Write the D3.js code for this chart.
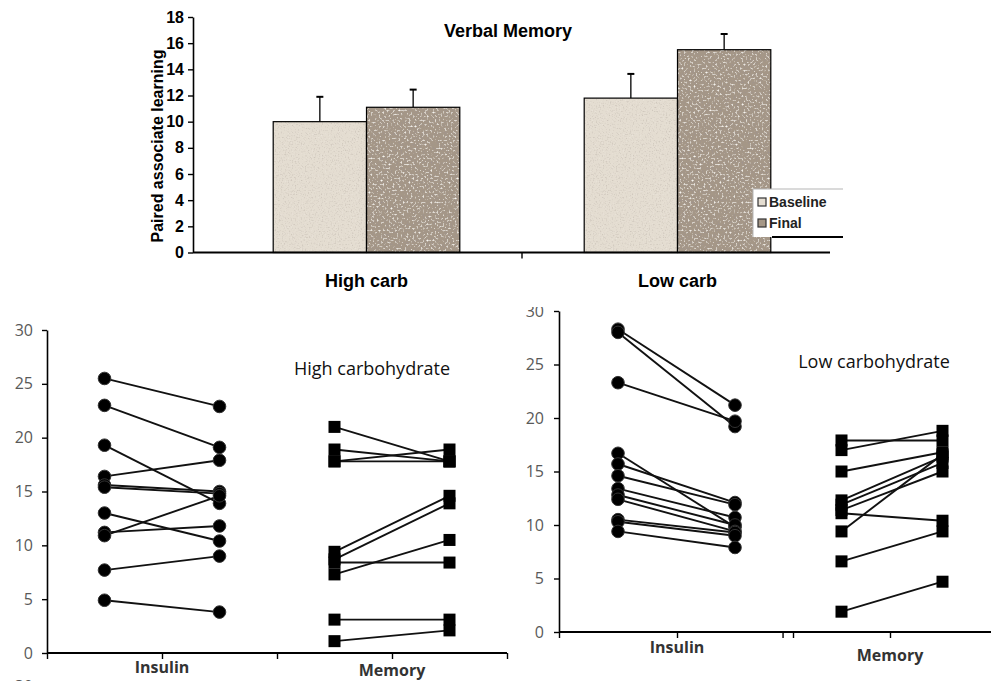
<!DOCTYPE html>
<html>
<head>
  <meta charset="utf-8">
  <title>Verbal Memory</title>
  <script src="https://cdn.jsdelivr.net/npm/d3@7"></script>
  <style>
    body { margin: 0; background: #fff; }
    .bt { font-family: "Liberation Sans", Arial, sans-serif; font-weight: bold; fill: #000; }
    .pt { font-family: "Open Sans", "Noto Sans", sans-serif; fill: #595959; }
  </style>
</head>
<body>
  <svg width="991" height="681" id="mainsvg"></svg>
  <script>
    // ---- top: verbal memory bars
    const groups = ['High carb', 'Low carb'];
    const seriesKeys = ['Baseline', 'Final'];
    const baselineMean = [10.0, 11.8];
    const finalMean = [11.1, 15.5];
    const baselineErr = [1.9, 1.85];
    const finalErr = [1.35, 1.2];
    const barTicks = [0, 2, 4, 6, 8, 10, 12, 14, 16, 18];

    // ---- bottom: paired subject values (baseline -> final)
    const hiInsulinBase = [25.5, 23.0, 19.3, 16.4, 15.6, 15.4, 13.0, 11.2, 10.9, 7.7, 4.9];
    const hiInsulinFinal = [22.9, 19.1, 13.9, 17.9, 15.0, 14.8, 10.4, 11.8, 14.6, 9.0, 3.8];
    const hiMemoryBase = [21.0, 18.9, 17.8, 17.8, 9.4, 8.7, 8.4, 7.3, 3.1, 1.1];
    const hiMemoryFinal = [17.8, 17.8, 18.9, 17.8, 14.6, 13.9, 8.4, 10.5, 3.1, 2.1];
    const loInsulinBase = [28.3, 28.0, 23.3, 16.7, 15.7, 14.6, 13.4, 12.8, 12.4, 10.5, 10.3, 9.4];
    const loInsulinFinal = [21.2, 19.2, 19.7, 9.8, 12.1, 11.9, 10.7, 10.0, 9.4, 9.3, 9.0, 7.9];
    const loMemoryBase = [17.9, 17.0, 15.0, 12.3, 11.9, 11.4, 11.1, 9.4, 6.6, 1.9];
    const loMemoryFinal = [17.9, 18.8, 16.8, 16.4, 15.8, 15.0, 10.4, 16.6, 9.4, 4.7];
    const panelTicks = [0, 5, 10, 15, 20, 25, 30];
    const measures = ['Insulin', 'Memory'];

    const svg = d3.select('#mainsvg');
    const defs = svg.append('defs');

    // speckled fill like the old excel texture
    function speckle(id, dark, light, seed, freq) {
      const f = defs.append('filter').attr('id', id)
        .attr('x', 0).attr('y', 0).attr('width', 1).attr('height', 1);
      f.append('feTurbulence').attr('type', 'fractalNoise')
        .attr('baseFrequency', freq).attr('numOctaves', 2).attr('seed', seed).attr('result', 'n');
      f.append('feColorMatrix').attr('in', 'n').attr('type', 'matrix')
        .attr('values', `0 0 0 0 0.35 0 0 0 0 0.3 0 0 0 0 0.27 ${dark[0]} 0 0 0 ${dark[1]}`)
        .attr('result', 'dk');
      f.append('feComposite').attr('in', 'dk').attr('in2', 'SourceAlpha').attr('operator', 'in').attr('result', 'dk2');
      f.append('feColorMatrix').attr('in', 'n').attr('type', 'matrix')
        .attr('values', `0 0 0 0 0.93 0 0 0 0 0.91 0 0 0 0 0.87 ${light[0]} 0 0 0 ${light[1]}`)
        .attr('result', 'lt');
      f.append('feComposite').attr('in', 'lt').attr('in2', 'SourceAlpha').attr('operator', 'in').attr('result', 'lt2');
      const m = f.append('feMerge');
      m.append('feMergeNode').attr('in', 'SourceGraphic');
      m.append('feMergeNode').attr('in', 'dk2');
      m.append('feMergeNode').attr('in', 'lt2');
    }
    speckle('spBase', [1.2, -0.65], [-1.2, 0.45], 3, 0.7);
    speckle('spFinal', [3.4, -1.75], [-3.4, 1.55], 7, 0.5);
    const fillColor = { Baseline: '#e4ddd1', Final: '#a59787' };
    const fillFilter = { Baseline: 'url(#spBase)', Final: 'url(#spFinal)' };

    // ================= top chart =================
    const yTop = d3.scaleLinear().domain([0, 18]).range([252.5, 17]);
    const xTop = d3.scaleBand().domain(groups).range([211, 833]);
    const xSub = d3.scaleBand().domain(seriesKeys)
      .range([xTop.bandwidth() * 0.2, xTop.bandwidth() * 0.8]);

    const barRows = groups.map((g, i) => ({
      group: g,
      values: [
        { key: 'Baseline', v: baselineMean[i], e: baselineErr[i] },
        { key: 'Final', v: finalMean[i], e: finalErr[i] }
      ]
    }));

    const gTop = svg.append('g');
    const grp = gTop.selectAll('.grp').data(barRows).join('g')
      .attr('class', 'grp')
      .attr('transform', d => `translate(${xTop(d.group)},0)`);

    // error bars first (only the upper half shows)
    grp.selectAll('.err').data(d => d.values).join('g').attr('class', 'err')
      .each(function (d) {
        const cx = xSub(d.key) + xSub.bandwidth() / 2;
        const s = d3.select(this);
        s.append('line').attr('x1', cx).attr('x2', cx)
          .attr('y1', yTop(d.v)).attr('y2', yTop(d.v + d.e))
          .attr('stroke', '#000').attr('stroke-width', 1.3);
        s.append('line').attr('x1', cx - 3.5).attr('x2', cx + 3.5)
          .attr('y1', yTop(d.v + d.e)).attr('y2', yTop(d.v + d.e))
          .attr('stroke', '#000').attr('stroke-width', 2);
      });

    grp.selectAll('.bar').data(d => d.values).join('rect').attr('class', 'bar')
      .attr('x', d => xSub(d.key))
      .attr('y', d => yTop(d.v))
      .attr('width', xSub.bandwidth())
      .attr('height', d => yTop(0) - yTop(d.v))
      .attr('fill', d => fillColor[d.key])
      .attr('filter', d => fillFilter[d.key]);
    grp.selectAll('.edge').data(d => d.values).join('rect').attr('class', 'edge')
      .attr('x', d => xSub(d.key))
      .attr('y', d => yTop(d.v))
      .attr('width', xSub.bandwidth())
      .attr('height', d => yTop(0) - yTop(d.v))
      .attr('fill', 'none').attr('stroke', '#000').attr('stroke-width', 1.2);

    // y axis
    const yAxTop = gTop.append('g').attr('transform', 'translate(193,0)')
      .call(d3.axisLeft(yTop).tickValues(barTicks).tickSize(5).tickSizeOuter(0).tickPadding(4));
    yAxTop.select('.domain').attr('stroke', '#000').attr('stroke-width', 1.6);
    yAxTop.selectAll('.tick line').attr('stroke', '#000').attr('stroke-width', 1.4);
    yAxTop.selectAll('.tick text').attr('class', 'bt').style('font-size', '16px');

    // x axis line and the tick between the groups
    gTop.append('line').attr('x1', 193).attr('x2', 830)
      .attr('y1', yTop(0)).attr('y2', yTop(0))
      .attr('stroke', '#000').attr('stroke-width', 1.8);
    gTop.append('line').attr('x1', xTop('Low carb')).attr('x2', xTop('Low carb'))
      .attr('y1', yTop(0)).attr('y2', yTop(0) + 6)
      .attr('stroke', '#000').attr('stroke-width', 1.4);
    gTop.selectAll('.cat').data(groups).join('text').attr('class', 'bt cat')
      .attr('x', d => xTop(d) + xTop.bandwidth() / 2)
      .attr('y', 287)
      .attr('text-anchor', 'middle')
      .style('font-size', '18px')
      .text(d => d);

    gTop.append('text').attr('class', 'bt')
      .attr('x', 508).attr('y', 37).attr('text-anchor', 'middle')
      .style('font-size', '18px').text('Verbal Memory');
    gTop.append('text').attr('class', 'bt')
      .attr('transform', 'translate(163,146) rotate(-90)')
      .attr('text-anchor', 'middle')
      .style('font-size', '16px').text('Paired associate learning');

    // legend
    const leg = gTop.append('g').attr('transform', 'translate(753,189)');
    leg.append('rect').attr('width', 90).attr('height', 48).attr('fill', '#fff');
    leg.append('path').attr('d', 'M0,48V0H90').attr('fill', 'none').attr('stroke', '#b5b5b5').attr('stroke-width', 1);
    leg.append('line').attr('x1', 19).attr('x2', 90).attr('y1', 48).attr('y2', 48)
      .attr('stroke', '#000').attr('stroke-width', 1.8);
    const li = leg.selectAll('.li').data(seriesKeys).join('g').attr('class', 'li')
      .attr('transform', (d, i) => `translate(5,${13 + i * 21})`);
    li.append('rect').attr('x', 0).attr('y', -4).attr('width', 8).attr('height', 8)
      .attr('fill', d => fillColor[d]).attr('stroke', '#333').attr('stroke-width', 1.2);
    li.append('text').attr('class', 'bt').attr('x', 11).attr('y', 5)
      .style('font-size', '14px').style('fill', '#222').text(d => d);

    // ================= paired panels =================
    function pairedPanel(cfg) {
      const g = svg.append('g');
      if (cfg.clipTop) {
        defs.append('clipPath').attr('id', cfg.id + 'clip')
          .append('rect').attr('x', 0).attr('y', cfg.clipTop).attr('width', 991).attr('height', 681);
        g.attr('clip-path', `url(#${cfg.id}clip)`);
      }
      const x = cfg.x, y = cfg.y;
      const x0 = x.range()[0];

      const yAx = g.append('g').attr('transform', `translate(${x0},0)`)
        .call(d3.axisLeft(y).tickValues(panelTicks).tickSize(5).tickSizeOuter(0).tickPadding(cfg.pad));
      yAx.select('.domain').attr('stroke', '#000').attr('stroke-width', 1.6);
      yAx.selectAll('.tick line').attr('stroke', '#000').attr('stroke-width', 1.4);
      yAx.selectAll('.tick text').attr('class', 'pt').style('font-size', '16px');

      const xAx = g.append('g').attr('transform', `translate(0,${y(0)})`)
        .call(d3.axisBottom(x).tickValues(cfg.xTicks).tickSize(6).tickSizeOuter(0).tickFormat(''));
      xAx.select('.domain').remove();
      xAx.selectAll('.tick line').attr('stroke', '#000').attr('stroke-width', 1.4);
      g.append('line').attr('x1', x0).attr('x2', cfg.axisEnd)
        .attr('y1', y(0)).attr('y2', y(0)).attr('stroke', '#000').attr('stroke-width', 1.8);

      g.selectAll('.mlab').data(measures).join('text').attr('class', 'pt mlab')
        .attr('x', (d, i) => x(1 + 2 * i))
        .attr('y', (d, i) => cfg.labelY[i])
        .attr('text-anchor', 'middle')
        .style('font-size', '16px').style('font-weight', 'bold').style('fill', '#333')
        .text(d => d);

      g.append('text').attr('class', 'pt')
        .attr('x', cfg.title[0]).attr('y', cfg.title[1])
        .attr('text-anchor', 'middle')
        .style('font-size', '18px').style('fill', '#111')
        .text(cfg.title[2]);

      cfg.sets.forEach(s => {
        const pairs = s.base.map((b, i) => ({ b, f: s.fin[i] }));
        g.append('g').selectAll('line').data(pairs).join('line')
          .attr('x1', x(s.at)).attr('x2', x(s.at + 1))
          .attr('y1', d => y(d.b)).attr('y2', d => y(d.f))
          .attr('stroke', '#111').attr('stroke-width', 1.9);
        const pts = s.base.map(v => ({ xv: s.at, v })).concat(s.fin.map(v => ({ xv: s.at + 1, v })));
        const mk = g.append('g');
        if (s.shape === 'circle') {
          mk.selectAll('circle').data(pts).join('circle')
            .attr('cx', d => x(d.xv)).attr('cy', d => y(d.v)).attr('r', 6.3)
            .attr('fill', '#000').attr('stroke', '#333').attr('stroke-width', 1);
        } else {
          mk.selectAll('rect').data(pts).join('rect')
            .attr('x', d => x(d.xv) - 6).attr('y', d => y(d.v) - 6)
            .attr('width', 12).attr('height', 12).attr('fill', '#000');
        }
      });
      return g;
    }

    pairedPanel({
      id: 'hi',
      x: d3.scaleLinear().domain([0, 4]).range([47, 507]),
      y: d3.scaleLinear().domain([0, 30]).range([653, 330]),
      pad: 9,
      xTicks: [0, 1, 2, 3, 4],
      axisEnd: 507,
      labelY: [673, 676],
      title: [372, 375, 'High carbohydrate'],
      sets: [
        { base: hiInsulinBase, fin: hiInsulinFinal, at: 0.5, shape: 'circle' },
        { base: hiMemoryBase, fin: hiMemoryFinal, at: 2.5, shape: 'square' }
      ]
    });

    pairedPanel({
      id: 'lo',
      x: d3.scaleLinear().domain([0, 1, 2, 3, 4]).range([559, 677, 793, 890, 995]),
      y: d3.scaleLinear().domain([0, 30]).range([632, 311]),
      pad: 10,
      xTicks: [0, 1, 1.91, 2, 3],
      axisEnd: 991,
      labelY: [653, 661],
      title: [874, 368, 'Low carbohydrate'],
      clipTop: 307,
      sets: [
        { base: loInsulinBase, fin: loInsulinFinal, at: 0.5, shape: 'circle' },
        { base: loMemoryBase, fin: loMemoryFinal, at: 2.5, shape: 'square' }
      ]
    });

    // top of the next panel's y label peeking in at the bottom edge
    svg.append('text').attr('class', 'pt').attr('x', 33).attr('y', 692)
      .attr('text-anchor', 'end').style('font-size', '16px').text('30');
  </script>
</body>
</html>
